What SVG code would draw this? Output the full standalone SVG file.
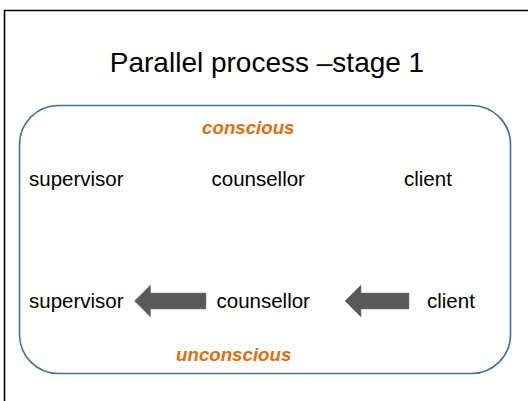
<svg xmlns="http://www.w3.org/2000/svg" width="528" height="401" viewBox="0 0 528 401">
<style>
.lbl{font-family:"Liberation Sans",Arial,sans-serif;font-size:20.5px;fill:#000}
.title{font-family:"Liberation Sans",Arial,sans-serif;font-size:28px;fill:#000}
.tag{font-family:"Liberation Sans",Arial,sans-serif;font-size:18.7px;font-weight:bold;font-style:italic;fill:#E46C0A}
.arr{fill:#595959;stroke:#7f7f7f;stroke-width:0.6}
</style>
<rect width="528" height="401" fill="#fff"/>
<path d="M4.5,401 V10.5 H528" fill="none" stroke="#000" stroke-width="1.6"/>
<text class="title" x="267" y="72" text-anchor="middle">Parallel process –stage 1</text>
<g id="frame">
<rect x="19.5" y="105.5" width="491" height="268" rx="39" ry="39" fill="none" stroke="#41719C" stroke-width="1.6"/>
<text class="tag" x="248.3" y="134" text-anchor="middle">conscious</text>
<text class="tag" x="233.7" y="361" text-anchor="middle">unconscious</text>
</g>
<g id="supervisor-conscious"><text class="lbl" x="29" y="186">supervisor</text></g>
<g id="counsellor-conscious"><text class="lbl" x="211.5" y="186">counsellor</text></g>
<g id="client-conscious"><text class="lbl" x="404" y="186">client</text></g>
<g id="supervisor-unconscious"><text class="lbl" x="29" y="308">supervisor</text></g>
<g id="counsellor-unconscious"><text class="lbl" x="216.5" y="308">counsellor</text></g>
<g id="client-unconscious"><text class="lbl" x="427" y="308">client</text></g>
<g id="connectors">
<polygon class="arr" points="206,293 150.5,293 150.5,285 134.5,301 150.5,317 150.5,309 206,309"/>
<polygon class="arr" points="409,293 361,293 361,285 345,301 361,317 361,309 409,309"/>
</g>
</svg>
